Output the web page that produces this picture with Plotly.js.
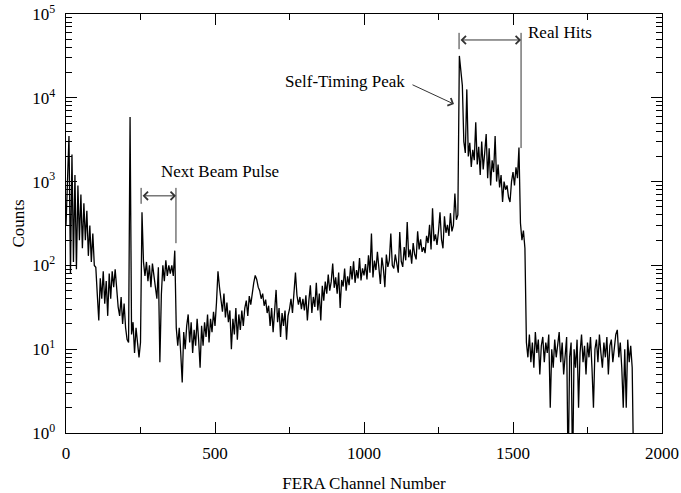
<!DOCTYPE html>
<html>
<head>
<meta charset="utf-8">
<script src="https://cdn.plot.ly/plotly-3.0.1.min.js"></script>
<style>html,body{margin:0;padding:0;background:#fff;}#chart{width:681px;height:493px;}</style>
</head>
<body>
<div id="chart"></div>
<script>
// Histogram bin width (channels) and counts, one value per bin starting at channel 0
const binWidth = 5;
const counts = [
  300, 1000, 3500, 80, 2100, 110, 1200, 90, 900, 200,
  700, 160, 550, 200, 450, 130, 300, 110, 240, 100,
  95, 45, 22, 70, 40, 85, 35, 65, 25, 80,
  40, 85, 55, 90, 50, 32, 25, 42, 20, 35,
  18, 13, 12, 5900, 15, 21, 9, 18, 12, 8,
  12, 430, 110, 75, 110, 65, 100, 55, 105, 80,
  55, 40, 95, 7, 45, 100, 65, 115, 75, 100,
  80, 100, 75, 150, 18, 11, 18, 9, 4, 16,
  10, 19, 26, 12, 21, 9, 17, 11, 23, 13,
  6, 19, 11, 21, 14, 26, 12, 23, 16, 28,
  19, 36, 85, 55, 40, 28, 46, 24, 36, 21,
  29, 10, 23, 15, 31, 13, 26, 17, 29, 19,
  31, 38, 25, 43, 34, 50, 62, 76, 68, 55,
  50, 40, 46, 33, 39, 27, 33, 19, 31, 16,
  26, 51, 21, 31, 14, 27, 19, 29, 13, 25,
  30, 40, 27, 44, 82, 44, 34, 42, 30, 40,
  29, 44, 22, 38, 58, 27, 42, 32, 62, 29,
  46, 22, 57, 38, 64, 46, 78, 50, 64, 105,
  54, 72, 46, 82, 31, 67, 56, 92, 50, 74,
  58, 98, 68, 112, 62, 88, 70, 122, 66, 92,
  76, 104, 68, 132, 82, 240, 72, 114, 88, 145,
  82, 60, 124, 92, 55, 135, 96, 115, 240, 100,
  92, 135, 106, 82, 250, 112, 96, 165, 115, 330,
  125, 155, 105, 185, 135, 118, 255, 155, 205, 145,
  165, 140, 225, 185, 305, 155, 480, 195, 235, 175,
  255, 430, 205, 160, 385, 245, 305, 225, 420, 255,
  300, 720, 350, 400, 31600, 20000, 14000, 3000, 2200, 12600,
  2000, 2900, 1500, 2400, 1800, 5100, 1600, 2600, 1200, 3000,
  1400, 2200, 3700, 1100, 2500, 900, 1800, 1300, 3500, 1000,
  1600, 850, 1200, 570, 1000, 800, 900, 650, 570, 1000,
  1300, 900, 1480, 1100, 2550, 320, 200, 260, 160, 12,
  8, 15, 7, 12, 6, 16, 9, 13, 5, 11,
  14, 7, 12, 9, 15, 2, 10, 6, 13, 8,
  11, 16, 7, 12, 5, 9, 14, 0, 8, 12,
  0, 10, 6, 13, 2, 9, 15, 7, 11, 5,
  12, 8, 14, 6, 2, 10, 13, 7, 15, 9,
  6, 12, 8, 14, 5, 11, 13, 7, 10, 15,
  17, 8, 12, 6, 2, 10, 2, 13, 7, 11,
  6, 0
];

const xTickVals = [0, 500, 1000, 1500, 2000];
const yTickVals = [1, 10, 100, 1000, 10000, 100000];
const yTickText = ['10<sup>0</sup>', '10<sup>1</sup>', '10<sup>2</sup>', '10<sup>3</sup>', '10<sup>4</sup>', '10<sup>5</sup>'];

// Annotation texts and the channel ranges they mark
const beamLabel = 'Next Beam Pulse';
const beamRange = [252, 369];
const hitsLabel = 'Real Hits';
const hitsRange = [1319, 1527];
const peakLabel = 'Self-Timing Peak';
const peakChannel = 1302;

const channels = counts.map((_, i) => i * binWidth);
// zero counts cannot be shown on a log axis: send them below the axis so the line runs to the bottom
const plotted = counts.map(v => v > 0 ? v : 0.3);

const minorY = [];
for (let e = 0; e < 5; e++) for (let m = 2; m <= 9; m++) minorY.push(m * Math.pow(10, e));

const FONT = 'Liberation Serif, Times New Roman, serif';
const ink = '#000';
const bracket = '#333';

const trace = {
  x: channels, y: plotted, type: 'scatter', mode: 'lines',
  line: {color: ink, width: 1.3}, hoverinfo: 'skip', showlegend: false
};

function vline(x, y0, y1) {
  return {type: 'line', xref: 'x', yref: 'paper', x0: x, x1: x, y0: y0, y1: y1,
          line: {color: bracket, width: 1}};
}

const layout = {
  width: 681, height: 493,
  margin: {l: 66, r: 19, t: 14, b: 60, pad: 0},
  paper_bgcolor: '#fff', plot_bgcolor: '#fff',
  font: {family: FONT, size: 17, color: ink},
  showlegend: false,
  xaxis: {
    range: [0, 2000], tickmode: 'array', tickvals: xTickVals,
    ticks: 'inside', ticklen: 11, tickwidth: 1, tickcolor: ink,
    minor: {ticks: 'inside', ticklen: 6, tickwidth: 1, tickcolor: ink, dtick: 250, tick0: 0},
    showline: true, linecolor: ink, linewidth: 1.3, mirror: 'ticks',
    showgrid: false, zeroline: false, ticklabelstandoff: 4,
    tickfont: {family: FONT, size: 17, color: ink},
    title: {text: 'FERA Channel Number', font: {family: FONT, size: 17, color: ink}, standoff: 20}
  },
  yaxis: {
    type: 'log', range: [0, 5], tickmode: 'array', tickvals: yTickVals, ticktext: yTickText,
    ticks: 'inside', ticklen: 11, tickwidth: 1, tickcolor: ink,
    minor: {ticks: 'inside', ticklen: 6, tickwidth: 1, tickcolor: ink, tickmode: 'array', tickvals: minorY},
    showline: true, linecolor: ink, linewidth: 1.3, mirror: 'ticks',
    showgrid: false, zeroline: false, ticklabelstandoff: 6,
    tickfont: {family: FONT, size: 17, color: ink},
    title: {text: 'Counts', font: {family: FONT, size: 17, color: ink}, standoff: 3}
  },
  shapes: [
    vline(beamRange[0], 0.585, 0.547),
    vline(beamRange[1], 0.585, 0.453),
    vline(hitsRange[0], 0.955, 0.916),
    vline(hitsRange[1], 0.955, 0.680)
  ],
  annotations: [
    {xref: 'x', yref: 'paper', x: 517, y: 0.623, text: beamLabel,
     showarrow: false, xanchor: 'center', yanchor: 'middle', font: {family: FONT, size: 17, color: ink}},
    {xref: 'x', yref: 'paper', x: beamRange[1], y: 0.566, axref: 'x', ayref: 'pixel',
     ax: beamRange[0], ay: 0, text: '', showarrow: true, arrowside: 'end+start',
     arrowhead: 4, startarrowhead: 4, arrowsize: 1.6, startarrowsize: 1.6, arrowwidth: 1, arrowcolor: bracket,
     standoff: 0, startstandoff: 0},
    {xref: 'x', yref: 'paper', x: hitsRange[1] + 15, y: 0.955, text: hitsLabel,
     showarrow: false, xanchor: 'left', yanchor: 'middle', font: {family: FONT, size: 17, color: ink}},
    {xref: 'x', yref: 'paper', x: hitsRange[1], y: 0.938, axref: 'x', ayref: 'pixel',
     ax: hitsRange[0], ay: 0, text: '', showarrow: true, arrowside: 'end+start',
     arrowhead: 4, startarrowhead: 4, arrowsize: 1.6, startarrowsize: 1.6, arrowwidth: 1, arrowcolor: bracket,
     standoff: 0, startstandoff: 0},
    {xref: 'x', yref: 'paper', x: 1144, y: 0.838, text: peakLabel,
     showarrow: false, xanchor: 'right', yanchor: 'middle', font: {family: FONT, size: 17, color: ink}},
    {xref: 'x', yref: 'paper', x: peakChannel, y: 0.785, ax: -43, ay: -20, text: '',
     showarrow: true, arrowhead: 4, arrowsize: 1.6, arrowwidth: 1, arrowcolor: bracket, standoff: 0}
  ]
};

Plotly.newPlot('chart', [trace], layout, {staticPlot: true, displayModeBar: false});
</script>
</body>
</html>
